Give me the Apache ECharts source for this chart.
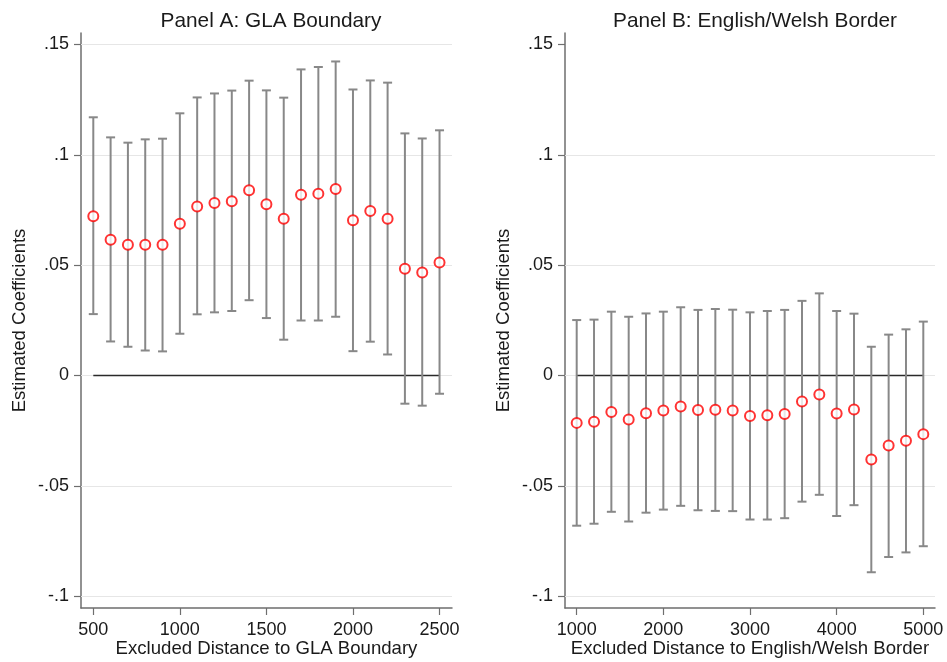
<!DOCTYPE html>
<html>
<head>
<meta charset="utf-8">
<script src="https://cdn.jsdelivr.net/npm/echarts@6/dist/echarts.min.js"></script>
<style>html,body{margin:0;padding:0;background:#fff;}#c{width:947px;height:662px;}</style>
</head>
<body>
<div id="c"></div>
<script>
// Panel A: GLA Boundary
const distA = [500,600,700,800,900,1000,1100,1200,1300,1400,1500,1600,1700,1800,1900,2000,2100,2200,2300,2400,2500];
const coefA = [0.0722,0.0615,0.0592,0.0592,0.0592,0.0687,0.0766,0.0781,0.0789,0.0839,0.0776,0.0710,0.0819,0.0824,0.0845,0.0703,0.0745,0.0710,0.0484,0.0467,0.0512];
const hiA   = [0.1170,0.1079,0.1055,0.1070,0.1073,0.1188,0.1260,0.1278,0.1291,0.1336,0.1292,0.1259,0.1387,0.1398,0.1423,0.1296,0.1337,0.1327,0.1097,0.1074,0.1111];
const loA   = [0.0278,0.0154,0.0130,0.0113,0.0109,0.0189,0.0277,0.0286,0.0292,0.0341,0.0260,0.0162,0.0249,0.0249,0.0266,0.0110,0.0153,0.0095,-0.0128,-0.0137,-0.0083];

// Panel B: English/Welsh Border
const distB = [1000,1200,1400,1600,1800,2000,2200,2400,2600,2800,3000,3200,3400,3600,3800,4000,4200,4400,4600,4800,5000];
const coefB = [-0.0215,-0.0210,-0.0166,-0.0200,-0.0171,-0.0159,-0.0141,-0.0157,-0.0156,-0.0159,-0.0184,-0.0180,-0.0175,-0.0118,-0.0086,-0.0172,-0.0154,-0.0381,-0.0318,-0.0296,-0.0266];
const hiB   = [0.0251,0.0253,0.0289,0.0266,0.0281,0.0289,0.0309,0.0297,0.0301,0.0298,0.0286,0.0292,0.0297,0.0338,0.0372,0.0292,0.0280,0.0130,0.0185,0.0209,0.0244];
const loB   = [-0.0681,-0.0672,-0.0618,-0.0662,-0.0622,-0.0608,-0.0591,-0.0611,-0.0614,-0.0615,-0.0653,-0.0653,-0.0647,-0.0572,-0.0541,-0.0637,-0.0588,-0.0892,-0.0823,-0.0802,-0.0774];

// Tick values and labels
const yTicks = [-0.1,-0.05,0,0.05,0.1,0.15];
const yTickLabels = ['-.1','-.05','0','.05','.1','.15'];
const gridLinesA = [-0.1,-0.05,0,0.05,0.1,0.15];
const gridLinesB = [-0.1,-0.05,0,0.05,0.1];
const xTicksA = [500,1000,1500,2000,2500];
const xTicksB = [1000,2000,3000,4000,5000];

const titles = ['Panel A: GLA Boundary','Panel B: English/Welsh Border'];
const xNames = ['Excluded Distance to GLA Boundary','Excluded Distance to English/Welsh Border'];
const yName = 'Estimated Coefficients';

const FONT = 'Liberation Sans, Arial, sans-serif';
const TXT = '#1a1a1a';
const AXIS = '#6e6e6e';

function yLabel(v){
  for (let i=0;i<yTicks.length;i++) if (Math.abs(yTicks[i]-v)<1e-9) return yTickLabels[i];
  return '';
}

function yAxis(idx){
  return {
    type:'value', gridIndex:idx, min:-0.1054, max:0.1552,
    name:yName, nameLocation:'middle', nameRotate:90, nameGap:52, nameMoveOverlap:false,
    nameTextStyle:{fontFamily:FONT,fontSize:18.5,color:TXT},
    axisLine:{show:true,lineStyle:{color:AXIS,width:1.5}},
    axisTick:{show:true,length:7,customValues:yTicks,lineStyle:{color:AXIS,width:1.2}},
    axisLabel:{customValues:yTicks,formatter:yLabel,margin:12,fontFamily:FONT,fontSize:18,color:TXT},
    splitLine:{show:false}
  };
}
function xAxis(idx,min,max,ticks,name){
  return {
    type:'value', gridIndex:idx, min:min, max:max,
    name:name, nameLocation:'middle', nameGap:31, nameMoveOverlap:false,
    nameTextStyle:{fontFamily:FONT,fontSize:18.6,lineHeight:19,color:TXT},
    axisLine:{show:true,onZero:false,lineStyle:{color:AXIS,width:1.5}},
    axisTick:{show:true,length:7,customValues:ticks,lineStyle:{color:AXIS,width:1.2}},
    axisLabel:{customValues:ticks,formatter:v=>String(v),margin:13,fontFamily:FONT,fontSize:18,color:TXT},
    splitLine:{show:false}
  };
}

function errBars(idx,xs,lo,hi){
  return {
    type:'custom', xAxisIndex:idx, yAxisIndex:idx, z:3,
    data: xs.map((x,i)=>[x,lo[i],hi[i]]),
    encode:{x:0,y:[1,2]},
    renderItem:function(params,api){
      const x=api.value(0);
      const pt=api.coord([x,api.value(2)]);
      const pb=api.coord([x,api.value(1)]);
      const h=4.5;
      const st={stroke:'#888888',lineWidth:2};
      return {type:'group',children:[
        {type:'line',shape:{x1:pt[0],y1:pt[1],x2:pb[0],y2:pb[1]},style:st},
        {type:'line',shape:{x1:pt[0]-h,y1:pt[1],x2:pt[0]+h,y2:pt[1]},style:st},
        {type:'line',shape:{x1:pb[0]-h,y1:pb[1],x2:pb[0]+h,y2:pb[1]},style:st}
      ]};
    }
  };
}
function points(idx,xs,ys,gl){
  return {
    type:'scatter', xAxisIndex:idx, yAxisIndex:idx, z:5,
    symbol:'emptyCircle', symbolSize:10,
    itemStyle:{color:'#ff0000',borderColor:'#ff0000',borderWidth:1.8},
    data: xs.map((x,i)=>[x,ys[i]]),
    markLine:{silent:true,symbol:['none','none'],label:{show:false},
      lineStyle:{color:'#e6e6e6',width:1.2,type:'solid'},
      data: gl.map(v=>({yAxis:v})), z:1}
  };
}
function zeroLine(idx,xs){
  return {
    type:'line', xAxisIndex:idx, yAxisIndex:idx, z:2, symbol:'none',
    lineStyle:{color:'#2a2a2a',width:1.6},
    data:[[xs[0],0],[xs[xs.length-1],0]]
  };
}

const chart = echarts.init(document.getElementById('c'),null,{renderer:'canvas'});
chart.setOption({
  animation:false,
  backgroundColor:'#ffffff',
  title:[
    {text:titles[0],left:266,top:6,textAlign:'center',textStyle:{fontFamily:FONT,fontSize:20.8,fontWeight:'normal',color:TXT}},
    {text:titles[1],left:750,top:6,textAlign:'center',textStyle:{fontFamily:FONT,fontSize:20.8,fontWeight:'normal',color:TXT}}
  ],
  grid:[
    {left:81,top:33,width:371,height:575,containLabel:false,outerBoundsMode:'none'},
    {left:565,top:33,width:370,height:575,containLabel:false,outerBoundsMode:'none'}
  ],
  xAxis:[xAxis(0,429,2572,xTicksA,xNames[0]), xAxis(1,865,5135,xTicksB,xNames[1])],
  yAxis:[yAxis(0),yAxis(1)],
  series:[
    zeroLine(0,distA), errBars(0,distA,loA,hiA), points(0,distA,coefA,gridLinesA),
    zeroLine(1,distB), errBars(1,distB,loB,hiB), points(1,distB,coefB,gridLinesB)
  ]
});
</script>
</body>
</html>
